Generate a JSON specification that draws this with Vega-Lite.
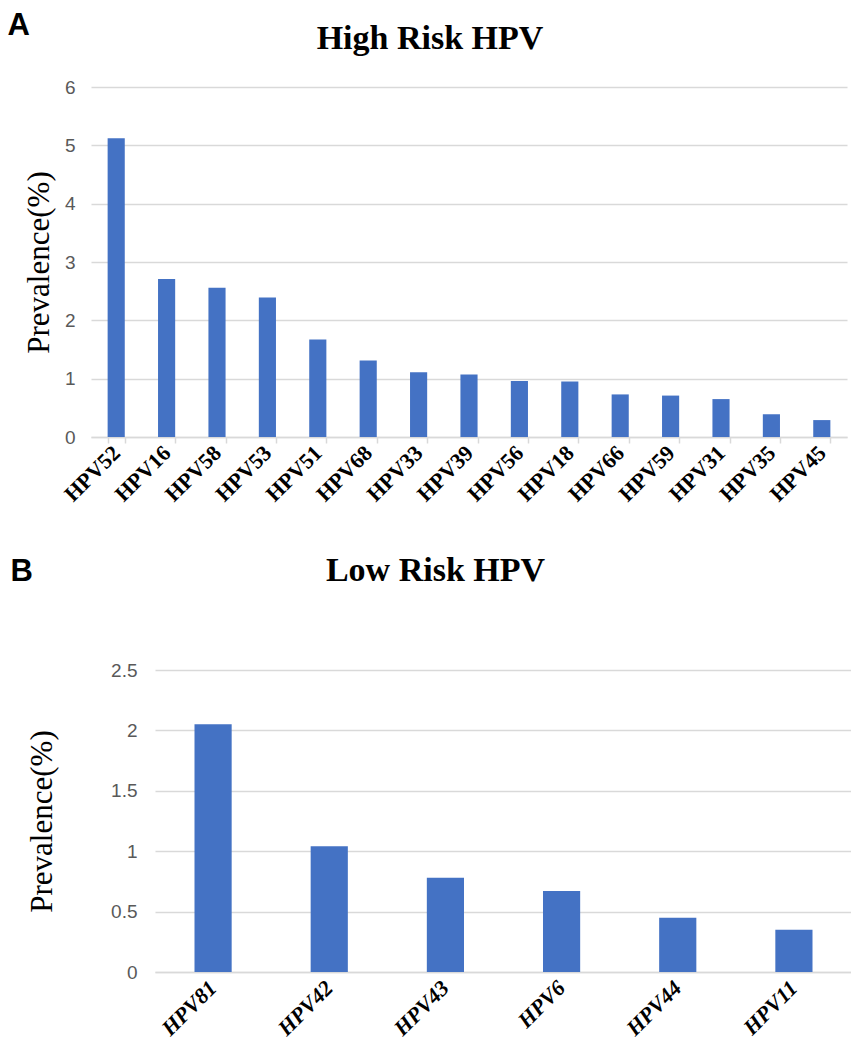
{
  "$schema": "https://vega.github.io/schema/vega-lite/v6.json",
  "padding": {"left": 7, "top": 10, "right": 3, "bottom": 5},
  "spacing": 48,
  "config": {
    "view": {"stroke": null},
    "bar": {"color": "#4472C4"},
    "axisY": {
      "domain": false,
      "ticks": false,
      "grid": true,
      "gridColor": "#d9d9d9",
      "gridWidth": 1.5,
      "labelFont": "Liberation Sans",
      "labelFontSize": 19,
      "labelColor": "#595959",
      "titleFont": "Liberation Serif",
      "titleFontSize": 31,
      "titleFontWeight": "normal",
      "titleColor": "#000000"
    },
    "axisX": {
      "domainColor": "#d9d9d9",
      "domainWidth": 1.5,
      "labelFont": "Liberation Serif",
      "labelFontWeight": "bold",
      "labelFontSize": 22,
      "labelColor": "#000000",
      "labelAngle": -45,
      "labelAlign": "right",
      "labelBaseline": "middle",
      "grid": false
    },
    "title": {"font": "Liberation Serif", "fontSize": 34, "fontWeight": "bold", "color": "#000000"}
  },
  "vconcat": [
    {
      "title": {"text": "A", "anchor": "start", "frame": "bounds", "dx": -16, "dy": 24, "font": "Liberation Sans", "fontSize": 31, "fontWeight": "bold"},
      "vconcat": [
        {
          "title": {"text": "High Risk HPV", "offset": 22, "dx": -39},
          "width": 756,
          "height": 350,
          "data": {
            "values": [
              {"type": "HPV52", "prevalence": 5.12},
              {"type": "HPV16", "prevalence": 2.71},
              {"type": "HPV58", "prevalence": 2.56},
              {"type": "HPV53", "prevalence": 2.39},
              {"type": "HPV51", "prevalence": 1.67},
              {"type": "HPV68", "prevalence": 1.31},
              {"type": "HPV33", "prevalence": 1.11},
              {"type": "HPV39", "prevalence": 1.07},
              {"type": "HPV56", "prevalence": 0.96},
              {"type": "HPV18", "prevalence": 0.95},
              {"type": "HPV66", "prevalence": 0.73},
              {"type": "HPV59", "prevalence": 0.71},
              {"type": "HPV31", "prevalence": 0.65},
              {"type": "HPV35", "prevalence": 0.39},
              {"type": "HPV45", "prevalence": 0.29}
            ]
          },
          "mark": "bar",
          "encoding": {
            "x": {
              "field": "type",
              "type": "nominal",
              "sort": null,
              "scale": {"paddingInner": 0.66, "paddingOuter": 0.33},
              "axis": {"title": null, "ticks": true, "tickBand": "extent", "tickColor": "#d9d9d9", "tickWidth": 1.5, "tickSize": 6, "labelPadding": 6}
            },
            "y": {
              "field": "prevalence",
              "type": "quantitative",
              "scale": {"domain": [0, 6], "nice": false},
              "axis": {"title": "Prevalence(%)", "values": [0, 1, 2, 3, 4, 5, 6], "labelPadding": 16, "titlePadding": 9}
            }
          }
        }
      ]
    },
    {
      "title": {"text": "B", "anchor": "start", "frame": "bounds", "dx": -16, "dy": 38, "font": "Liberation Sans", "fontSize": 31, "fontWeight": "bold"},
      "spacing": -66,
      "hconcat": [
        {
          "width": 1,
          "height": 1,
          "data": {"values": []},
          "mark": "point",
          "encoding": {}
        },
        {
          "title": {"text": "Low Risk HPV", "offset": 73, "dx": -68},
          "width": 697,
          "height": 302,
          "data": {
            "values": [
              {"type": "HPV81", "prevalence": 2.05},
              {"type": "HPV42", "prevalence": 1.04},
              {"type": "HPV43", "prevalence": 0.78},
              {"type": "HPV6", "prevalence": 0.67},
              {"type": "HPV44", "prevalence": 0.45},
              {"type": "HPV11", "prevalence": 0.35}
            ]
          },
          "mark": "bar",
          "encoding": {
            "x": {
              "field": "type",
              "type": "nominal",
              "sort": null,
              "scale": {"paddingInner": 0.68, "paddingOuter": 0.34},
              "axis": {"title": null, "ticks": false, "labelPadding": 12, "labelFontStyle": "italic"}
            },
            "y": {
              "field": "prevalence",
              "type": "quantitative",
              "scale": {"domain": [0, 2.5], "nice": false},
              "axis": {"title": "Prevalence(%)", "values": [0, 0.5, 1, 1.5, 2, 2.5], "format": "~g", "labelPadding": 18, "titlePadding": 52}
            }
          }
        }
      ]
    }
  ]
}
